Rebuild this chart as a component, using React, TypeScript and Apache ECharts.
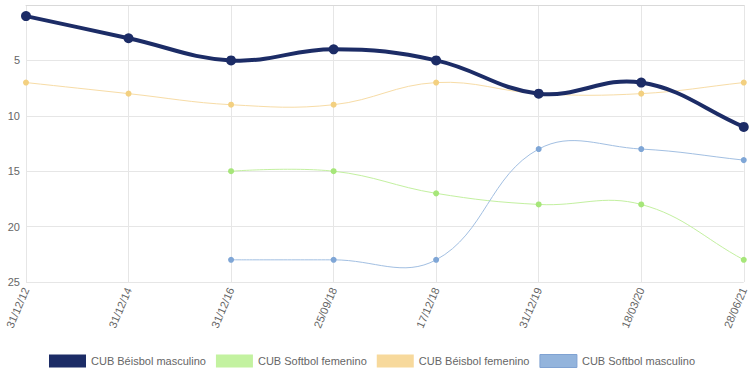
import React, { useEffect, useRef } from "react";
import * as echarts from "echarts";

const categories = ["31/12/12", "31/12/14", "31/12/16", "25/09/18", "17/12/18", "31/12/19", "18/03/20", "28/06/21"];
const beisbolMasculino = [1, 3, 5, 4, 5, 8, 7, 11];
const softbolFemenino = [null, null, 15, 15, 17, 18, 18, 23];
const beisbolFemenino = [7, 8, 9, 9, 7, 8, 8, 7];
const softbolMasculino = [null, null, 23, 23, 23, 13, 13, 14];
const yTicks = { min: 0, max: 25, interval: 5 };

const TENSION = 0.4;

// Chart.js-like spline through the pixel points given by the axes
function splineSegments(pts: ({ x: number; y: number } | null)[]) {
  const ctrl: any[] = [];
  const n = pts.length;
  for (let i = 0; i < n; i++) {
    const p = pts[i];
    if (!p) { ctrl.push(null); continue; }
    const prev = i === 0 ? p : pts[i - 1];
    const next = pts[Math.min(i + 1, n - 1)];
    if (!prev || !next) {
      ctrl.push({ px: p.x, py: p.y, nx: p.x, ny: p.y });
      continue;
    }
    const d01 = Math.hypot(p.x - prev.x, p.y - prev.y);
    const d12 = Math.hypot(next.x - p.x, next.y - p.y);
    let s01 = d01 / (d01 + d12);
    let s12 = d12 / (d01 + d12);
    s01 = isNaN(s01) ? 0 : s01;
    s12 = isNaN(s12) ? 0 : s12;
    const fa = TENSION * s01;
    const fb = TENSION * s12;
    ctrl.push({
      px: p.x - fa * (next.x - prev.x),
      py: p.y - fa * (next.y - prev.y),
      nx: p.x + fb * (next.x - prev.x),
      ny: p.y + fb * (next.y - prev.y),
    });
  }
  const segs: any[] = [];
  for (let i = 0; i < n - 1; i++) {
    const a = pts[i], b = pts[i + 1];
    if (!a || !b) continue;
    segs.push({
      x1: a.x, y1: a.y, x2: b.x, y2: b.y,
      cpx1: ctrl[i].nx, cpy1: ctrl[i].ny,
      cpx2: ctrl[i + 1].px, cpy2: ctrl[i + 1].py,
    });
  }
  return segs;
}

function curveSeries(values: (number | null)[], color: string, width: number, z: number) {
  return {
    type: "custom",
    silent: true,
    z,
    data: [[0, 0]],
    encode: { x: 0, y: 1 },
    renderItem: (_params: any, api: any) => {
      const pts = values.map((v, i) => {
        if (v === null || v === undefined) return null;
        const c = api.coord([i, v]);
        return { x: c[0], y: c[1] };
      });
      const segs = splineSegments(pts);
      return {
        type: "group",
        children: segs.map((s) => ({
          type: "bezierCurve",
          shape: s,
          style: { stroke: color, lineWidth: width, fill: null },
        })),
      };
    },
  };
}

export default function App() {
  const ref = useRef<HTMLDivElement>(null);
  useEffect(() => {
    const chart = echarts.init(ref.current!, null, { renderer: "svg" });
    const font = "Liberation Sans, Arial, sans-serif";
    const pointSeries = (name: string, data: any[], point: string, size: number, z: number) => ({
      name,
      type: "line",
      data,
      symbol: "circle",
      symbolSize: size,
      showSymbol: true,
      lineStyle: { width: 0, opacity: 0, color: point },
      itemStyle: { color: point },
      z,
    });
    chart.setOption({
      animation: false,
      textStyle: { fontFamily: font },
      legend: {
        top: 354,
        left: 49,
        padding: 0,
        itemWidth: 37,
        itemHeight: 13,
        itemGap: 10,
        icon: "rect",
        textStyle: { color: "#666", fontSize: 11, fontFamily: font },
        data: [
          { name: "CUB Béisbol masculino", itemStyle: { color: "#1c2c66" } },
          { name: "CUB Softbol femenino", itemStyle: { color: "#c3f2a0" } },
          { name: "CUB Béisbol femenino", itemStyle: { color: "#f7d99c" } },
          { name: "CUB Softbol masculino", itemStyle: { color: "#93b4dc", borderColor: "#7fa2d2", borderWidth: 1 } },
        ],
      },
      grid: { left: 26, right: 5, top: 5, bottom: 93, containLabel: false },
      xAxis: {
        type: "category",
        data: categories,
        boundaryGap: false,
        axisLine: { show: true, lineStyle: { color: "#d9d9d9" } },
        axisTick: { show: false },
        splitLine: { show: true, lineStyle: { color: "#e6e6e6" } },
        axisLabel: { rotate: 67, color: "#666", fontSize: 11, fontFamily: font, margin: 6, interval: 0 },
      },
      yAxis: {
        type: "value",
        inverse: true,
        min: yTicks.min,
        max: yTicks.max,
        interval: yTicks.interval,
        axisLine: { show: false },
        axisTick: { show: false },
        splitLine: { lineStyle: { color: "#e6e6e6" } },
        axisLabel: { color: "#666", fontSize: 11, fontFamily: font, showMinLabel: false, margin: 6 },
      },
      series: [
        curveSeries(softbolFemenino, "#c3f0a0", 1, 2),
        curveSeries(beisbolFemenino, "#f7dca6", 1, 2),
        curveSeries(softbolMasculino, "#a2bfe2", 1, 2),
        curveSeries(beisbolMasculino, "#1c2c66", 4, 5),
        pointSeries("CUB Béisbol masculino", beisbolMasculino, "#1c2c66", 10, 6),
        pointSeries("CUB Softbol femenino", softbolFemenino, "#a6e679", 6, 3),
        pointSeries("CUB Béisbol femenino", beisbolFemenino, "#f3d080", 6, 3),
        pointSeries("CUB Softbol masculino", softbolMasculino, "#7fa6d6", 6, 3),
      ],
    });
    return () => chart.dispose();
  }, []);
  return <div ref={ref} style={{ width: 750, height: 375, position: "absolute", left: 0, top: 0 }} />;
}
